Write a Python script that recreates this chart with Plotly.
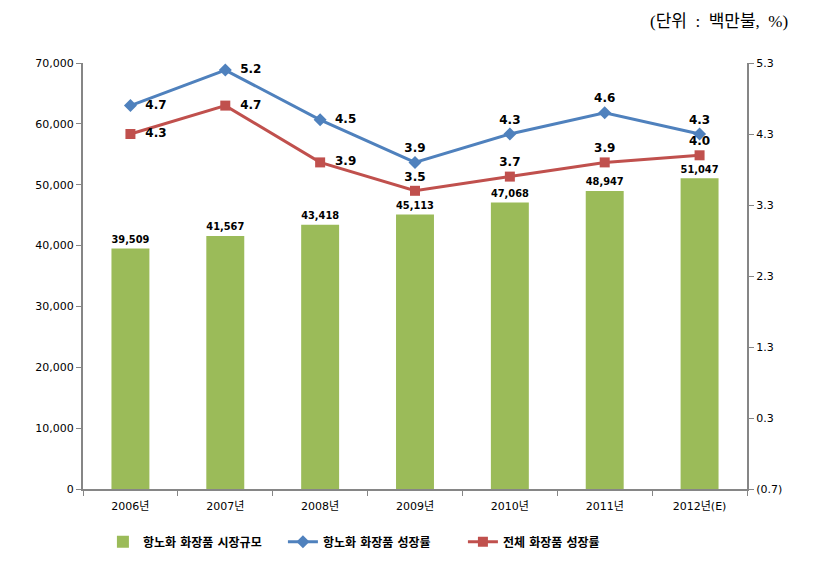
import plotly.graph_objects as go

years = ["2006년", "2007년", "2008년", "2009년", "2010년", "2011년", "2012년(E)"]
market_size = [39509, 41567, 43418, 45113, 47068, 48947, 51047]
anti_aging_growth = [4.7, 5.2, 4.5, 3.9, 4.3, 4.6, 4.3]
total_growth = [4.3, 4.7, 3.9, 3.5, 3.7, 3.9, 4.0]
blue_pos = ["middle right", "middle right", "middle right", "top center", "top center", "top center", "top center"]
red_pos = ["middle right", "middle right", "middle right", "top center", "top center", "top center", "top center"]
left_ticks = [0, 10000, 20000, 30000, 40000, 50000, 60000, 70000]
right_ticks = [-0.7, 0.3, 1.3, 2.3, 3.3, 4.3, 5.3]
right_ticktext = ["(0.7)", "0.3", "1.3", "2.3", "3.3", "4.3", "5.3"]

FONT = "DejaVu Sans, Noto Sans CJK KR, sans-serif"
NB = "\u00a0\u00a0"


def lbl(v, pos):
    s = f"<b>{v:.1f}</b>"
    return NB + s if pos == "middle right" else s


fig = go.Figure()
fig.add_trace(go.Bar(
    x=years, y=market_size, name="항노화 화장품 시장규모",
    marker=dict(color="#9BBB59", line=dict(width=0)),
    text=[f"<b>{v:,}</b>" for v in market_size], textposition="outside",
    textfont=dict(family=FONT, size=11, color="black"), cliponaxis=False,
))
fig.add_trace(go.Scatter(
    x=years, y=anti_aging_growth, name="항노화 화장품 성장률", yaxis="y2",
    mode="lines+markers+text",
    line=dict(color="#4F81BD", width=3),
    marker=dict(symbol="diamond", size=10, color="#4F81BD"),
    text=[lbl(v, p) for v, p in zip(anti_aging_growth, blue_pos)], textposition=blue_pos,
    textfont=dict(family=FONT, size=12, color="black"), cliponaxis=False,
))
fig.add_trace(go.Scatter(
    x=years, y=total_growth, name="전체 화장품 성장률", yaxis="y2",
    mode="lines+markers+text",
    line=dict(color="#C0504D", width=3),
    marker=dict(symbol="square", size=10, color="#C0504D"),
    text=[lbl(v, p) for v, p in zip(total_growth, red_pos)], textposition=red_pos,
    textfont=dict(family=FONT, size=12, color="black"), cliponaxis=False,
))

fig.update_layout(
    width=800, height=554,
    margin=dict(l=75, r=61, t=55, b=73, autoexpand=False),
    plot_bgcolor="white", paper_bgcolor="white",
    font=dict(family=FONT, size=11, color="black"),
    bargap=0.6,
    showlegend=True,
    legend=dict(orientation="h", x=0.03, xanchor="left", y=-0.09, yanchor="top",
                font=dict(family=FONT, size=12, weight="bold"), itemwidth=30,
                entrywidth=135, entrywidthmode="pixels",
                traceorder="normal"),
    xaxis=dict(type="category", showline=True, linecolor="#868686", linewidth=2,
               ticks="outside", tickson="boundaries", ticklen=5, tickcolor="#868686",
               showgrid=False, tickfont=dict(size=11), automargin=False,
               ticklabelstandoff=6),
    yaxis=dict(range=[0, 70000], tickvals=left_ticks, tickformat=",", showline=True,
               linecolor="#868686", linewidth=2, ticks="outside", ticklen=5,
               tickcolor="#868686", showgrid=False, zeroline=False, tickfont=dict(size=11),
               automargin=False),
    yaxis2=dict(range=[-0.7, 5.3], tickvals=right_ticks, ticktext=right_ticktext,
                overlaying="y", side="right", showline=True, linecolor="#868686",
                linewidth=2, ticks="outside", ticklen=5, tickcolor="#868686",
                showgrid=False, zeroline=False, tickfont=dict(size=11), automargin=False),
    annotations=[dict(text="(단위\u00a0\u00a0:\u00a0\u00a0백만불,\u00a0\u00a0%)", xref="paper", yref="paper",
                      x=1.065, y=1.125, xanchor="right", yanchor="top", showarrow=False,
                      font=dict(family="Liberation Serif, Noto Sans CJK KR, serif",
                                size=17, color="black"))],
)

fig.write_html("out.html")
